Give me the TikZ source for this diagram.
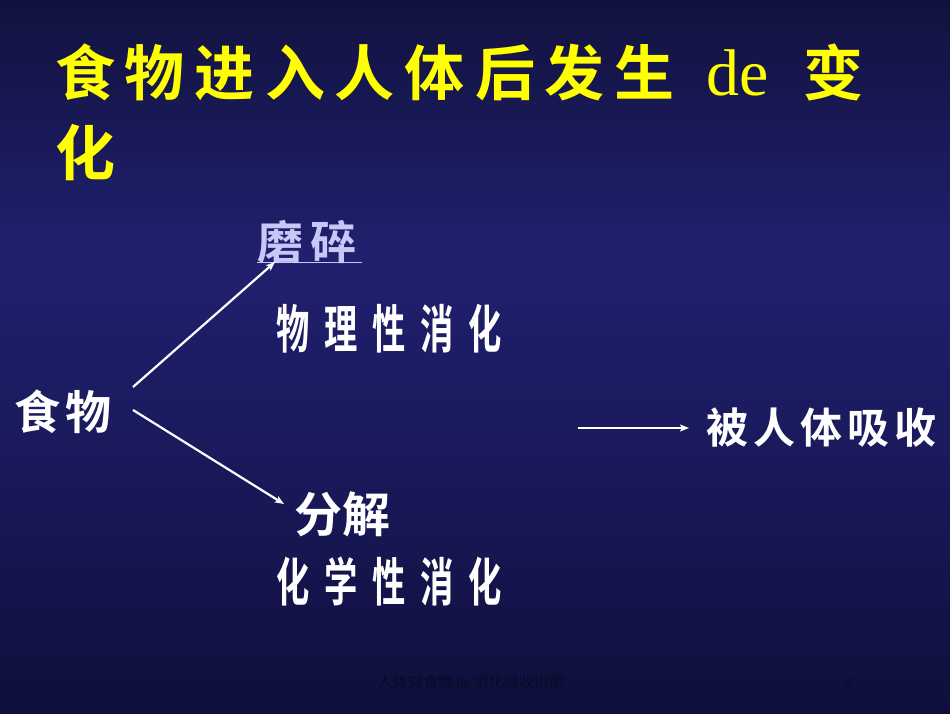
\documentclass[tikz,border=0pt]{standalone}
\usepackage{fontspec}
\usepackage{graphicx}
\usetikzlibrary{arrows.meta}
\newfontfamily\cjk{Noto Sans CJK SC}
\newfontfamily\cjkb{Noto Sans CJK SC Bold}
\newfontfamily\lat{Liberation Serif}
\definecolor{bgtop}{HTML}{12123F}
\definecolor{bgmid}{HTML}{20206F}
\definecolor{bglow}{HTML}{19195A}
\definecolor{bgbot}{HTML}{0F0F3C}
\definecolor{ttl}{HTML}{FFFF00}
\definecolor{lav}{HTML}{C8C8F8}
\definecolor{foot}{HTML}{0A0A22}
\pgfdeclareverticalshading{slidebg}{100bp}{color(0bp)=(bgbot); color(25bp)=(bgbot); color(42bp)=(bglow); color(57bp)=(bgmid); color(75bp)=(bgtop); color(100bp)=(bgtop)}
\newcommand\cbox[2]{\makebox[#1][l]{#2}}
\newcommand\nbox[2]{\makebox[#1][l]{\scalebox{0.64}[1]{#2}}}
\tikzset{
  txt/.style={anchor=base west, inner sep=0pt, outer sep=0pt},
  title/.style={txt, text=ttl, font=\cjkb\fontsize{60}{60}\selectfont},
  arr/.style={draw=white, line width=2.2pt, -{Stealth[length=9pt,width=7pt,inset=2pt]}},
}
\begin{document}
\begin{tikzpicture}[x=1pt,y=-1pt]
\shade[shading=slidebg] (0,0) rectangle (950,713);
\useasboundingbox (0,0) rectangle (950,713);
% title
\node[title] (t1) at (55,95.5) {\cbox{70pt}{食}\cbox{70pt}{物}\cbox{70pt}{进}\cbox{70pt}{入}\cbox{70pt}{人}\cbox{70pt}{体}\cbox{70pt}{后}\cbox{70pt}{发}生};
\node[txt, text=ttl, font=\lat\fontsize{66}{66}\selectfont] (tde) at (706,95) {de};
\node[title] (t2) at (803,95.5) {变};
\node[title] (t3) at (55,175.5) {化};
% labels
\node[txt, text=lav, font=\cjkb\fontsize{46}{46}\selectfont] (mosui) at (257,259) {\cbox{54pt}{磨}碎};
\draw[lav, line width=1.5pt] (mosui.base west) ++(0,3.5) coordinate (ul1) -- ++(105,0) coordinate (ul2);
\node[txt, text=white, font=\cjkb\fontsize{52}{52}\selectfont] (wuli) at (276,348) {\nbox{48pt}{物}\nbox{48pt}{理}\nbox{48pt}{性}\nbox{48pt}{消}\nbox{48pt}{化}};
\node[txt, text=white, font=\cjkb\fontsize{46}{46}\selectfont] (food) at (14,429) {\cbox{52pt}{食}物};
\node[txt, text=white, font=\cjkb\fontsize{48}{48}\selectfont] (fenjie) at (294,532) {\cbox{48pt}{分}解};
\node[txt, text=white, font=\cjkb\fontsize{52}{52}\selectfont] (huaxue) at (276,601) {\nbox{48pt}{化}\nbox{48pt}{学}\nbox{48pt}{性}\nbox{48pt}{消}\nbox{48pt}{化}};
\node[txt, text=white, font=\cjkb\fontsize{42}{42}\selectfont] (absorb) at (706,443) {\cbox{47pt}{被}\cbox{47pt}{人}\cbox{47pt}{体}\cbox{47pt}{吸}收};
% arrows
\coordinate (a1s) at (133,387);
\coordinate (a1e) at (275,262);
\coordinate (a2s) at (133,410);
\coordinate (a2e) at (284,504);
\coordinate (a3s) at (578,428);
\coordinate (a3e) at (689,428);
\draw[arr] (a1s) -- (a1e);
\draw[arr] (a2s) -- (a2e);
\draw[arr] (a3s) -- (a3e);
% footer
\node[txt, text=foot, font=\cjk\fontsize{15}{15}\selectfont] (footer) at (378,687) {人体对食物 {\lat de} 消化吸收识图};
\node[txt, text=foot, font=\lat\fontsize{15}{15}\selectfont] (pnum) at (845,687) {2};
\end{tikzpicture}
\end{document}
